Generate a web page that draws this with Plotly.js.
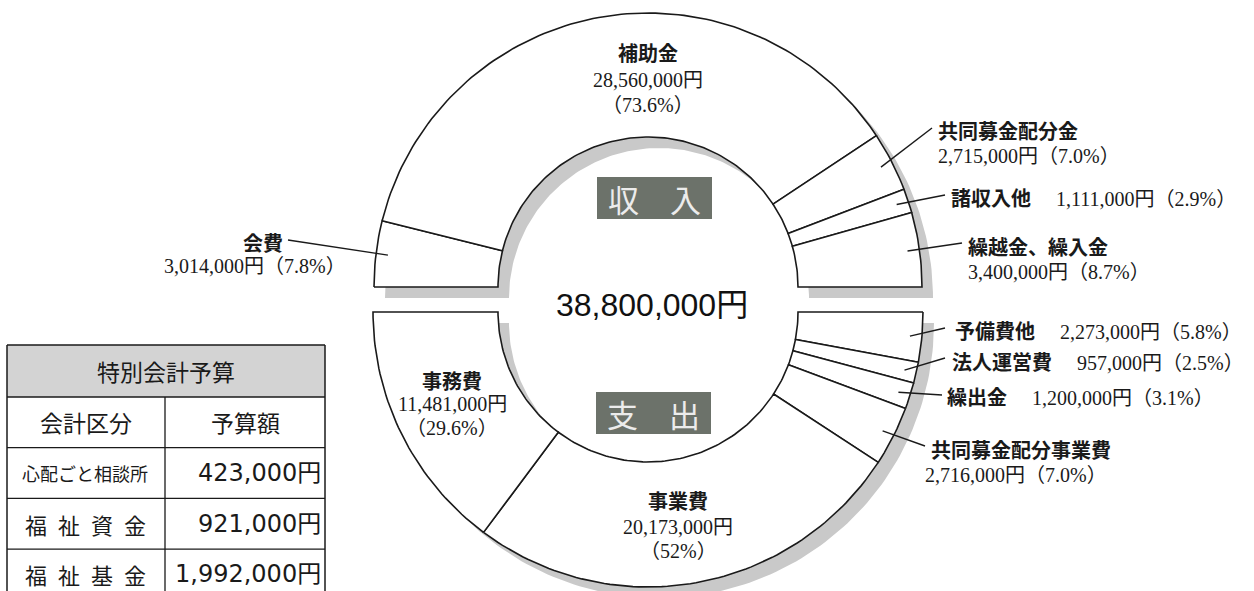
<!DOCTYPE html>
<html><head><meta charset="utf-8">
<script src="https://cdn.plot.ly/plotly-3.0.1.min.js"></script>
<style>html,body{margin:0;padding:0;background:#fff}#chart{width:1254px;height:591px}</style>
</head><body><div id="chart"></div>
<script>
// ---- data ----
const totalBudget = 38800000;
const incomeLabels = ["会費", "補助金", "共同募金配分金", "諸収入他", "繰越金、繰入金"];
const incomeValues = [3014000, 28560000, 2715000, 1111000, 3400000];
const incomePct = ["7.8", "73.6", "7.0", "2.9", "8.7"];
const expenseLabels = ["予備費他", "法人運営費", "繰出金", "共同募金配分事業費", "事業費", "事務費"];
const expenseValues = [2273000, 957000, 1200000, 2716000, 20173000, 11481000];
const expensePct = ["5.8", "2.5", "3.1", "7.0", "52", "29.6"];
const tableTitle = "特別会計予算";
const tableHeader = ["会計区分", "予算額"];
const specialLabels = ["心配ごと相談所", "福\u2002祉\u2002資\u2002金", "福\u2002祉\u2002基\u2002金"];
const specialValues = [423000, 921000, 1992000];

// ---- helpers ----
const fmt = v => v.toLocaleString("en-US") + "円";
const SERIF = "Liberation Serif, Noto Sans CJK JP, serif";
const GOTH = "Noto Sans CJK JP, sans-serif";
const INK = "#1a1a1a";
const nameSpan = s => '<span style="font-family:Noto Sans CJK JP;font-weight:bold">' + s + '</span>';

const geo = {
  top: {cx: 648, cy: 287, rIn: 150, rOut: 274, start: 180},
  bot: {cx: 648, cy: 312, rIn: 150, rOut: 275, start: 0}
};
const shadowOff = 11;

function ring(cx, cy, rIn, rOut, a0, a1) {
  const n = Math.max(4, Math.ceil(Math.abs(a1 - a0) / 1.2));
  const xs = [], ys = [];
  for (let i = 0; i <= n; i++) { const a = (a0 + (a1 - a0) * i / n) * Math.PI / 180; xs.push(cx + rOut * Math.cos(a)); ys.push(cy + rOut * Math.sin(a)); }
  for (let i = n; i >= 0; i--) { const a = (a0 + (a1 - a0) * i / n) * Math.PI / 180; xs.push(cx + rIn * Math.cos(a)); ys.push(cy + rIn * Math.sin(a)); }
  xs.push(xs[0]); ys.push(ys[0]);
  return {x: xs, y: ys};
}
function angles(values, start) {
  const tot = values.reduce((a, b) => a + b, 0);
  let c = 0; const out = [];
  values.forEach(v => { const a0 = start + c / tot * 180; c += v; const a1 = start + c / tot * 180; out.push([a0, a1]); });
  return out;
}
function pointAt(g, a, r) { const t = a * Math.PI / 180; return [g.cx + r * Math.cos(t), g.cy + r * Math.sin(t)]; }

const traces = [];
// shadows
[geo.top, geo.bot].forEach(g => {
  const p = ring(g.cx + shadowOff, g.cy + shadowOff, g.rIn, g.rOut, g.start, g.start + 180);
  traces.push({type: "scatter", mode: "lines", x: p.x, y: p.y, fill: "toself", fillcolor: "#c9c9c9", line: {width: 0, color: "#c9c9c9"}, hoverinfo: "skip"});
});
const incAng = angles(incomeValues, geo.top.start);
const expAng = angles(expenseValues, geo.bot.start);
function addSlices(g, labels, values, angs) {
  angs.forEach((a, i) => {
    const p = ring(g.cx, g.cy, g.rIn, g.rOut, a[0], a[1]);
    traces.push({type: "scatter", mode: "lines", x: p.x, y: p.y, fill: "toself", fillcolor: "#ffffff",
      line: {color: INK, width: 1.6}, name: labels[i], text: labels[i] + " " + fmt(values[i]), hoverinfo: "text"});
  });
}
addSlices(geo.top, incomeLabels, incomeValues, incAng);
addSlices(geo.bot, expenseLabels, expenseValues, expAng);

// ---- annotations / shapes ----
const ann = [];
const shapes = [];
function txt(x, y, text, opts) {
  ann.push(Object.assign({x: x, y: y, xref: "x", yref: "y", text: text, showarrow: false, borderpad: 0,
    font: {family: SERIF, size: 20, color: INK}, xanchor: "center", yanchor: "middle"}, opts || {}));
}
function line(x0, y0, x1, y1, w) {
  shapes.push({type: "line", xref: "x", yref: "y", x0: x0, y0: y0, x1: x1, y1: y1, line: {color: INK, width: w || 1.4}});
}
function leader(g, ang, x2, y2) {
  const mid = (ang[0] + ang[1]) / 2;
  const p = pointAt(g, mid, g.rOut - 12);
  line(p[0], p[1], x2, y2, 1.4);
}
const pctText = p => "（" + p + "%）";

// income labels
txt(648, 52, nameSpan(incomeLabels[1]));
txt(648, 80, fmt(incomeValues[1]));
txt(648, 105, pctText(incomePct[1]));

leader(geo.top, incAng[0], 288, 240);
txt(284, 242, nameSpan(incomeLabels[0]), {xanchor: "right"});
txt(163, 266, fmt(incomeValues[0]) + pctText(incomePct[0]), {xanchor: "left"});

leader(geo.top, incAng[2], 932, 128);
txt(937, 130, nameSpan(incomeLabels[2]), {xanchor: "left"});
txt(937, 156, fmt(incomeValues[2]) + pctText(incomePct[2]), {xanchor: "left"});

leader(geo.top, incAng[3], 945, 195);
txt(950, 197, nameSpan(incomeLabels[3]) + "\u3000 " + fmt(incomeValues[3]) + pctText(incomePct[3]), {xanchor: "left"});

leader(geo.top, incAng[4], 962, 243);
txt(967, 246, nameSpan(incomeLabels[4]), {xanchor: "left"});
txt(967, 272, fmt(incomeValues[4]) + pctText(incomePct[4]), {xanchor: "left"});

// expense labels
txt(452, 380, nameSpan(expenseLabels[5]));
txt(452, 404, fmt(expenseValues[5]));
txt(452, 428, pctText(expensePct[5]));

txt(678, 500, nameSpan(expenseLabels[4]));
txt(678, 527, fmt(expenseValues[4]));
txt(678, 551, pctText(expensePct[4]));

leader(geo.bot, expAng[0], 945, 328);
txt(954, 330, nameSpan(expenseLabels[0]) + "\u3000 " + fmt(expenseValues[0]) + pctText(expensePct[0]), {xanchor: "left"});
leader(geo.bot, expAng[1], 945, 358);
txt(951, 361, nameSpan(expenseLabels[1]) + "\u3000 " + fmt(expenseValues[1]) + pctText(expensePct[1]), {xanchor: "left"});
leader(geo.bot, expAng[2], 942, 395);
txt(946, 396, nameSpan(expenseLabels[2]) + "\u3000 " + fmt(expenseValues[2]) + pctText(expensePct[2]), {xanchor: "left"});
leader(geo.bot, expAng[3], 925, 446);
txt(930, 449, nameSpan(expenseLabels[3]), {xanchor: "left"});
txt(924, 475, fmt(expenseValues[3]) + pctText(expensePct[3]), {xanchor: "left"});

// center
txt(652, 305, fmt(totalBudget), {font: {family: "Liberation Sans, Noto Sans CJK JP, sans-serif", size: 32, color: "#111"}});

// boxes 収入 / 支出
shapes.push({type: "rect", xref: "x", yref: "y", x0: 597, x1: 712, y0: 177, y1: 219, fillcolor: "#6c726a", line: {width: 0}});
txt(654, 198, "収\u3000入", {font: {family: GOTH, size: 31, color: "#ececec"}});
shapes.push({type: "rect", xref: "x", yref: "y", x0: 596, x1: 711, y0: 392, y1: 434, fillcolor: "#6c726a", line: {width: 0}});
txt(653, 413, "支\u3000出", {font: {family: GOTH, size: 31, color: "#ececec"}});

// ---- special account table ----
const tbl = {x0: 7, x1: 325, xs: 165, top: 345, titleH: 52, rowH: 50.7};
shapes.push({type: "rect", xref: "x", yref: "y", x0: tbl.x0, x1: tbl.x1, y0: tbl.top, y1: tbl.top + tbl.titleH, fillcolor: "#d3d3d3", line: {width: 0}, layer: "below"});
txt((tbl.x0 + tbl.x1) / 2, tbl.top + tbl.titleH / 2, tableTitle, {font: {family: GOTH, size: 23, color: INK}});
const rowsTop = tbl.top + tbl.titleH;
const nRows = specialLabels.length + 1;
const tblBottom = rowsTop + nRows * tbl.rowH;
// header row
txt((tbl.x0 + tbl.xs) / 2, rowsTop + tbl.rowH / 2, tableHeader[0], {font: {family: GOTH, size: 23, color: INK}});
txt((tbl.xs + tbl.x1) / 2, rowsTop + tbl.rowH / 2, tableHeader[1], {font: {family: GOTH, size: 23, color: INK}});
specialLabels.forEach((lab, i) => {
  const yc = rowsTop + (i + 1.5) * tbl.rowH;
  txt((tbl.x0 + tbl.xs) / 2 - 1, yc, lab, {font: {family: GOTH, size: i === 0 ? 18 : 22, color: INK}});
  txt(tbl.x1 - 3, yc, fmt(specialValues[i]), {xanchor: "right", font: {family: "DejaVu Sans, Noto Sans CJK JP, sans-serif", size: 24, color: INK}});
});
// grid lines
line(tbl.x0, tbl.top, tbl.x1, tbl.top, 1.5);
line(tbl.x0, tbl.top, tbl.x0, tblBottom, 1.5);
line(tbl.x1, tbl.top, tbl.x1, tblBottom, 1.5);
line(tbl.xs, rowsTop, tbl.xs, tblBottom, 1.3);
for (let k = 0; k < nRows; k++) line(tbl.x0, rowsTop + k * tbl.rowH, tbl.x1, rowsTop + k * tbl.rowH, 1.3);

const layout = {
  width: 1254, height: 591, margin: {l: 0, r: 0, t: 0, b: 0},
  paper_bgcolor: "#ffffff", plot_bgcolor: "#ffffff", showlegend: false,
  xaxis: {range: [0, 1254], visible: false, fixedrange: true},
  yaxis: {range: [591, 0], visible: false, fixedrange: true},
  annotations: ann, shapes: shapes
};
Plotly.newPlot("chart", traces, layout, {displayModeBar: false, staticPlot: true});
</script>
</body></html>
